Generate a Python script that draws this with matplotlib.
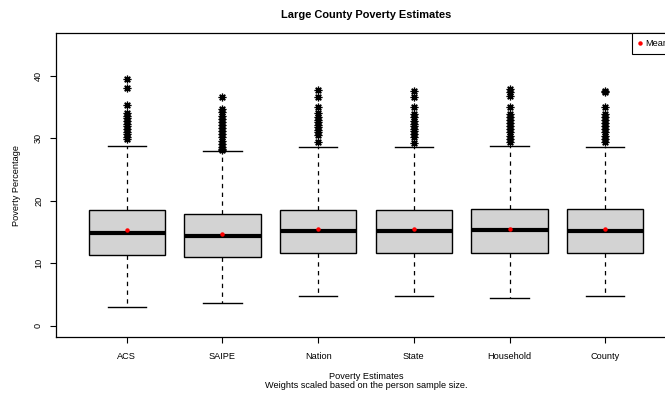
import matplotlib
matplotlib.use("Agg")
import matplotlib.pyplot as plt
from matplotlib.lines import Line2D

plt.rcParams['font.family'] = ['Liberation Sans', 'DejaVu Sans']

categories = ["ACS", "SAIPE", "Nation", "State", "Household", "County"]
q1 = [11.3, 11.05, 11.7, 11.7, 11.7, 11.7]
median = [14.8, 14.35, 15.1, 15.15, 15.25, 15.15]
q3 = [18.55, 17.8, 18.45, 18.5, 18.7, 18.6]
whisker_low = [3.05, 3.65, 4.8, 4.8, 4.5, 4.8]
whisker_high = [28.8, 27.9, 28.5, 28.5, 28.75, 28.5]
mean = [15.3, 14.7, 15.4, 15.5, 15.5, 15.5]
outliers = [
    [39.5, 38.0, 35.3, 34.0, 33.6, 33.2, 32.8, 32.3, 31.9, 31.5, 31.0, 30.6, 30.2, 29.8],
    [36.6, 34.6, 34.1, 33.6, 33.1, 32.6, 32.1, 31.6, 31.1, 30.6, 30.1, 29.6, 29.1, 28.5, 28.2, 28.1],
    [37.7, 36.5, 35.0, 34.0, 33.3, 32.9, 32.5, 32.1, 31.7, 31.3, 30.9, 30.5, 29.3],
    [37.5, 36.6, 34.9, 33.9, 33.3, 32.8, 32.3, 31.9, 31.5, 31.1, 30.6, 30.2, 29.2],
    [37.8, 37.3, 36.7, 34.9, 33.9, 33.4, 32.9, 32.4, 31.9, 31.4, 30.9, 30.4, 29.9, 29.4],
    [37.6, 37.3, 34.9, 33.9, 33.3, 32.9, 32.4, 31.9, 31.4, 30.9, 30.4, 29.9, 29.4],
]
y_ticks = [0, 10, 20, 30, 40]

BASE = 6.6

fig = plt.figure(figsize=(6.65, 3.94), dpi=100)
ax = fig.add_axes([56 / 665, 57 / 394, 620 / 665, 304 / 394])

stats = []
for i, name in enumerate(categories):
    stats.append(dict(label=name, q1=q1[i], med=median[i], q3=q3[i],
                      whislo=whisker_low[i], whishi=whisker_high[i],
                      mean=mean[i], fliers=outliers[i]))

positions = list(range(1, len(categories) + 1))
ax.bxp(stats, positions=positions, widths=0.8, patch_artist=True,
       showmeans=True, showfliers=True, capwidths=0.4,
       boxprops=dict(facecolor="#d3d3d3", edgecolor="black", linewidth=1.0),
       medianprops=dict(color="black", linewidth=3.0, solid_capstyle="butt"),
       whiskerprops=dict(color="black", linewidth=0.9, linestyle=(0, (3.5, 3.5))),
       capprops=dict(color="black", linewidth=1.0),
       meanprops=dict(marker="o", markerfacecolor="red", markeredgecolor="red",
                      markersize=2.2, linestyle="none"),
       flierprops=dict(marker=(8, 2, 0), markeredgecolor="black", markersize=5.5,
                       markeredgewidth=0.9, linestyle="none"))

ax.set_xlim(0.26, 6.74)
ax.set_ylim(-1.8, 46.8)
ax.set_yticks(y_ticks)
ax.set_yticklabels([str(t) for t in y_ticks], rotation=90, va="center", fontsize=BASE)
ax.set_xticks(positions)
ax.set_xticklabels(categories, fontsize=BASE)
ax.tick_params(axis="both", length=4.3, width=0.8, color="black")
ax.tick_params(axis="y", pad=5)
ax.tick_params(axis="x", pad=6.8)
for s in ax.spines.values():
    s.set_linewidth(0.9)
    s.set_color("black")

ax.set_ylabel("Poverty Percentage", fontsize=BASE, labelpad=9.3)
ax.set_title("Large County Poverty Estimates", fontsize=7.9, fontweight="bold", pad=10.5)

x_mid = ax.get_position().x0 + ax.get_position().width / 2
fig.text(x_mid, 1 - 376.5 / 394, "Poverty Estimates", ha="center", va="center",
         fontsize=BASE)
fig.text(x_mid, 1 - 385.5 / 394, "Weights scaled based on the person sample size.",
         ha="center", va="center", fontsize=BASE)

handle = Line2D([], [], marker="o", color="red", markersize=2.2, linestyle="none")
leg = ax.legend([handle], ["Mean"], loc="upper left",
                bbox_to_anchor=((632 - 56) / 620, 1.0), borderaxespad=0,
                fancybox=False, framealpha=1, edgecolor="black", fontsize=BASE,
                handlelength=0.5, handletextpad=0.35, borderpad=0.65)
leg.get_frame().set_linewidth(0.8)

fig.savefig("out.png", dpi=100)
